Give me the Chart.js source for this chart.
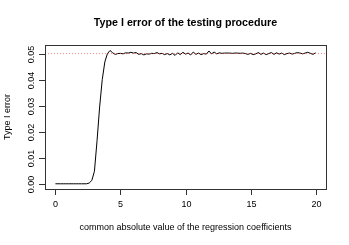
<!DOCTYPE html>
<html lang="en">
<head>
    <meta charset="UTF-8">
    <title>Type I error of the testing procedure</title>
    <script src="https://cdn.jsdelivr.net/npm/chart.js"></script>
    <style>
        html, body { margin: 0; padding: 0; background: #fff; }
        #chart-container { width: 349px; height: 245px; }
    </style>
</head>
<body>
    <div id="chart-container">
        <canvas id="errChart"></canvas>
    </div>

    <script>
        // common absolute value of the regression coefficients
        const coefValues = [
            0.0, 0.2, 0.4, 0.6, 0.8, 1.0, 1.2, 1.4, 1.6, 1.8,
            2.0, 2.2, 2.4, 2.6, 2.8, 3.0, 3.2, 3.4, 3.6, 3.8,
            4.0, 4.2, 4.4, 4.6, 4.8, 5.0, 5.2, 5.4, 5.6, 5.8,
            6.0, 6.2, 6.4, 6.6, 6.8, 7.0, 7.2, 7.4, 7.6, 7.8,
            8.0, 8.2, 8.4, 8.6, 8.8, 9.0, 9.2, 9.4, 9.6, 9.8,
            10.0, 10.2, 10.4, 10.6, 10.8, 11.0, 11.2, 11.4, 11.6, 11.8,
            12.0, 12.2, 12.4, 12.6, 12.8, 13.0, 13.2, 13.4, 13.6, 13.8,
            14.0, 14.2, 14.4, 14.6, 14.8, 15.0, 15.2, 15.4, 15.6, 15.8,
            16.0, 16.2, 16.4, 16.6, 16.8, 17.0, 17.2, 17.4, 17.6, 17.8,
            18.0, 18.2, 18.4, 18.6, 18.8, 19.0, 19.2, 19.4, 19.6, 19.8,
            20.0
        ];

        // estimated type I error at each value
        const typeOneError = [
            0, 0, 0, 0, 0, 0, 0, 0, 0, 0,
            0, 0, 0, 0.0003, 0.0013, 0.0048, 0.0165, 0.0295, 0.0400, 0.0468,
            0.0500, 0.0512, 0.0503, 0.0497, 0.0500, 0.0501, 0.0499, 0.0503, 0.0502, 0.0505,
            0.0502, 0.0504, 0.0497, 0.0500, 0.0495, 0.0499, 0.0498, 0.0501, 0.0500, 0.0504,
            0.0499, 0.0501, 0.0496, 0.0500, 0.0495, 0.0501, 0.0493, 0.0503, 0.0496, 0.0505,
            0.0498, 0.0502, 0.0495, 0.0506, 0.0497, 0.0502, 0.0496, 0.0500, 0.0498, 0.0510,
            0.0499, 0.0506, 0.0499, 0.0503, 0.0501, 0.0502, 0.0502, 0.0502, 0.0501, 0.0502,
            0.0502, 0.0501, 0.0502, 0.0500, 0.0497, 0.0501, 0.0496, 0.0499, 0.0504, 0.0497,
            0.0502, 0.0496, 0.0500, 0.0504, 0.0497, 0.0503, 0.0498, 0.0502, 0.0496, 0.0500,
            0.0502, 0.0498, 0.0501, 0.0504, 0.0502, 0.0499, 0.0502, 0.0505, 0.0501, 0.0497,
            0.0503
        ];

        const nominalLevel = 0.05;
        const xTicks = [0, 5, 10, 15, 20];
        const yTicks = [0.00, 0.01, 0.02, 0.03, 0.04, 0.05];
        const yTickLabels = ['0.00', '0.01', '0.02', '0.03', '0.04', '0.05'];

        const titleText = 'Type I error of the testing procedure';
        const xTitle = 'common absolute value of the regression coefficients';
        const yTitle = 'Type I error';

        const points = coefValues.map((x, i) => ({ x: x, y: typeOneError[i] }));
        const refLine = [{ x: -0.8, y: nominalLevel }, { x: 20.8, y: nominalLevel }];

        // base-graphics style box, ticks and labels drawn from the chart scales
        const rAxes = {
            id: 'rAxes',
            afterDraw(chart) {
                const ctx = chart.ctx;
                const area = chart.chartArea;
                const xs = chart.scales.x;
                const ys = chart.scales.y;
                ctx.save();
                ctx.strokeStyle = '#333';
                ctx.lineWidth = 1;
                ctx.strokeRect(Math.round(area.left) + 0.5, Math.round(area.top) + 0.5,
                    Math.round(area.right - area.left), Math.round(area.bottom - area.top));

                ctx.fillStyle = '#000';
                ctx.font = '9px "Liberation Sans", Arial, sans-serif';
                ctx.textAlign = 'center';
                ctx.textBaseline = 'middle';
                xTicks.forEach(v => {
                    const px = Math.round(xs.getPixelForValue(v)) + 0.5;
                    ctx.beginPath();
                    ctx.moveTo(px, Math.round(area.bottom));
                    ctx.lineTo(px, Math.round(area.bottom) + 6);
                    ctx.stroke();
                    ctx.fillText(String(v), px, 205);
                });
                yTicks.forEach((v, i) => {
                    const py = Math.round(ys.getPixelForValue(v)) + 0.5;
                    ctx.beginPath();
                    ctx.moveTo(Math.round(area.left), py);
                    ctx.lineTo(Math.round(area.left) - 6, py);
                    ctx.stroke();
                    ctx.save();
                    ctx.translate(31.5, py);
                    ctx.rotate(-Math.PI / 2);
                    ctx.fillText(yTickLabels[i], 0, 0);
                    ctx.restore();
                });

                const cx = (area.left + area.right) / 2;
                ctx.fillText(xTitle, cx, 228);
                ctx.save();
                ctx.translate(7.5, (area.top + area.bottom) / 2);
                ctx.rotate(-Math.PI / 2);
                ctx.fillText(yTitle, 0, 0);
                ctx.restore();

                ctx.font = 'bold 10.7px "Liberation Sans", Arial, sans-serif';
                ctx.fillText(titleText, cx, 23);
                ctx.restore();
            }
        };

        const ctx = document.getElementById('errChart').getContext('2d');
        new Chart(ctx, {
            type: 'scatter',
            data: {
                datasets: [
                    {
                        data: refLine,
                        showLine: true,
                        borderColor: 'rgba(255, 60, 60, 0.6)',
                        borderWidth: 1,
                        borderDash: [1, 2],
                        pointRadius: 0
                    },
                    {
                        data: points,
                        showLine: true,
                        borderColor: '#000',
                        borderWidth: 1,
                        pointRadius: 0,
                        tension: 0
                    }
                ]
            },
            options: {
                responsive: true,
                maintainAspectRatio: false,
                animation: false,
                layout: { padding: { left: 45, right: 23, top: 45, bottom: 56 } },
                scales: {
                    x: { type: 'linear', min: -0.8, max: 20.8, display: false },
                    y: { type: 'linear', min: -0.002, max: 0.0533, display: false }
                },
                plugins: {
                    legend: { display: false },
                    tooltip: { enabled: false }
                }
            },
            plugins: [rAxes]
        });
    </script>
</body>
</html>
